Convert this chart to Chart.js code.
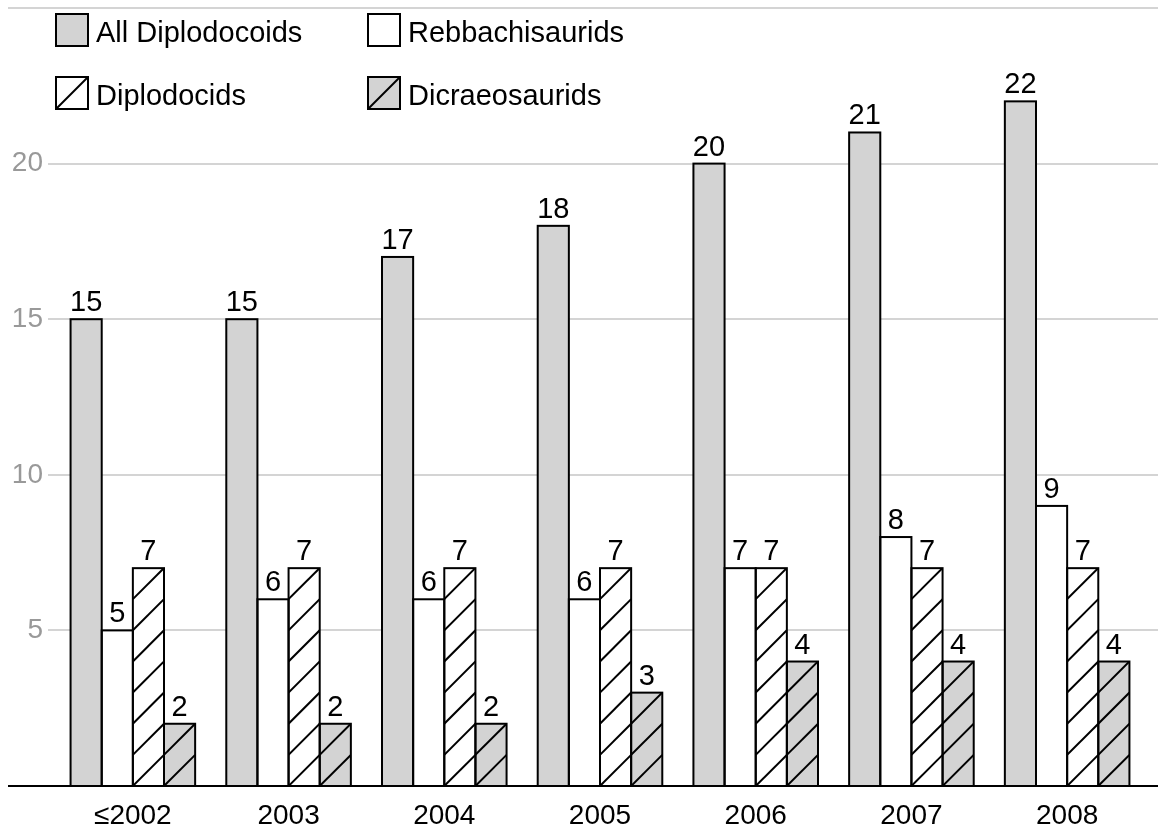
<!DOCTYPE html>
<html>
<head>
<meta charset="utf-8">
<script src="https://cdn.jsdelivr.net/npm/chart.js@4"></script>
<style>
  html, body { margin: 0; padding: 0; background: #fff; }
  #wrap { width: 1158px; height: 833px; }
</style>
</head>
<body>
<div id="wrap"><canvas id="sauropods" width="1158" height="833"></canvas></div>
<script>
const years = ["≤2002", "2003", "2004", "2005", "2006", "2007", "2008"];
const allDiplodocoids = [15, 15, 17, 18, 20, 21, 22];
const rebbachisaurids = [5, 6, 6, 6, 7, 8, 9];
const diplodocids = [7, 7, 7, 7, 7, 7, 7];
const dicraeosaurids = [2, 2, 2, 3, 4, 4, 4];
const yTicks = [5, 10, 15, 20];
const yMax = 25;

const FONT = "'Liberation Sans', Arial, Helvetica, sans-serif";
const GREY = "#d3d3d3";

// gridlines sit behind the bars; the top one runs further left
const gridPlugin = {
  id: "grid",
  beforeDatasetsDraw(chart) {
    const { ctx } = chart;
    const y = chart.scales.y;
    ctx.save();
    ctx.strokeStyle = "#d4d4d4";
    ctx.lineWidth = 2;
    yTicks.forEach(v => {
      const py = Math.round(y.getPixelForValue(v));
      ctx.beginPath();
      ctx.moveTo(48, py);
      ctx.lineTo(chart.width, py);
      ctx.stroke();
    });
    const top = Math.round(y.getPixelForValue(yMax));
    ctx.beginPath();
    ctx.moveTo(8, top);
    ctx.lineTo(chart.width, top);
    ctx.stroke();
    ctx.restore();
  }
};

function hatchRect(ctx, left, top, w, h) {
  const base = top + h;
  ctx.save();
  ctx.beginPath();
  ctx.rect(left, top, w, h);
  ctx.clip();
  ctx.strokeStyle = "#000";
  ctx.lineWidth = 2;
  for (let k = 0; k * w < h + w; k++) {
    const y0 = base - k * w;
    ctx.beginPath();
    ctx.moveTo(left, y0);
    ctx.lineTo(left + w, y0 - w);
    ctx.stroke();
  }
  ctx.restore();
}

// outlines, hatching, axis line and value labels
const barDecor = {
  id: "barDecor",
  afterDatasetsDraw(chart) {
    const { ctx } = chart;
    chart.data.datasets.forEach((ds, i) => {
      const meta = chart.getDatasetMeta(i);
      meta.data.forEach((bar, idx) => {
        const { x, y, base, width } = bar.getProps(["x", "y", "base", "width"], true);
        const left = x - width / 2;
        if (ds.hatch) hatchRect(ctx, left, y, width, base - y);
        ctx.save();
        ctx.strokeStyle = "#000";
        ctx.lineWidth = 2;
        ctx.strokeRect(left, y, width, base - y);
        ctx.restore();

        ctx.save();
        ctx.font = "29px " + FONT;
        ctx.fillStyle = "#000";
        ctx.textAlign = "center";
        ctx.textBaseline = "alphabetic";
        ctx.fillText(ds.data[idx], x, y - 8);
        ctx.restore();
      });
    });

    const zero = Math.round(chart.scales.y.getPixelForValue(0));
    ctx.save();
    ctx.strokeStyle = "#000";
    ctx.lineWidth = 2;
    ctx.beginPath();
    ctx.moveTo(8, zero);
    ctx.lineTo(chart.width, zero);
    ctx.stroke();
    ctx.restore();
  }
};

// two-row legend drawn over the top-left of the plot
const legendBoxes = {
  id: "legendBoxes",
  afterDraw(chart) {
    const { ctx } = chart;
    const spots = [[56, 14], [368, 14], [56, 77], [368, 77]];
    chart.data.datasets.forEach((ds, i) => {
      const [bx, by] = spots[i];
      const s = 32;
      ctx.save();
      ctx.fillStyle = ds.backgroundColor;
      ctx.fillRect(bx, by, s, s);
      if (ds.hatch) {
        ctx.strokeStyle = "#000";
        ctx.lineWidth = 2;
        ctx.beginPath();
        ctx.moveTo(bx, by + s);
        ctx.lineTo(bx + s, by);
        ctx.stroke();
      }
      ctx.strokeStyle = "#000";
      ctx.lineWidth = 2;
      ctx.strokeRect(bx, by, s, s);
      ctx.font = "29px " + FONT;
      ctx.fillStyle = "#000";
      ctx.textAlign = "left";
      ctx.textBaseline = "alphabetic";
      ctx.fillText(ds.label, bx + 40, by + 28);
      ctx.restore();
    });
  }
};

new Chart(document.getElementById("sauropods"), {
  type: "bar",
  data: {
    labels: years,
    datasets: [
      { label: "All Diplodocoids", data: allDiplodocoids, backgroundColor: GREY },
      { label: "Rebbachisaurids", data: rebbachisaurids, backgroundColor: "#ffffff" },
      { label: "Diplodocids", data: diplodocids, backgroundColor: "#ffffff", hatch: true },
      { label: "Dicraeosaurids", data: dicraeosaurids, backgroundColor: GREY, hatch: true }
    ]
  },
  options: {
    responsive: false,
    animation: false,
    layout: { padding: { top: 8, right: 13, left: 0, bottom: 0 } },
    datasets: {
      bar: { borderWidth: 0, categoryPercentage: 0.8, barPercentage: 1.0, inflateAmount: 0 }
    },
    plugins: {
      legend: { display: false },
      tooltip: { enabled: false }
    },
    scales: {
      x: {
        grid: { display: false, drawTicks: false },
        border: { display: false },
        ticks: { color: "#000", padding: 13, font: { family: FONT, size: 28 } },
        afterFit(s) {
          s.height = 47;
          s.paddingLeft = 0;
          s.paddingRight = 0;
        }
      },
      y: {
        min: 0,
        max: yMax,
        grid: { display: false, drawTicks: false },
        border: { display: false },
        ticks: {
          stepSize: 5,
          padding: 12,
          color: "#999",
          font: { family: FONT, size: 28 },
          callback: v => (yTicks.includes(v) ? v : "")
        },
        afterFit(s) {
          s.width = 55;
          s.paddingTop = 0;
          s.paddingBottom = 0;
        }
      }
    }
  },
  plugins: [gridPlugin, barDecor, legendBoxes]
});
</script>
</body>
</html>
